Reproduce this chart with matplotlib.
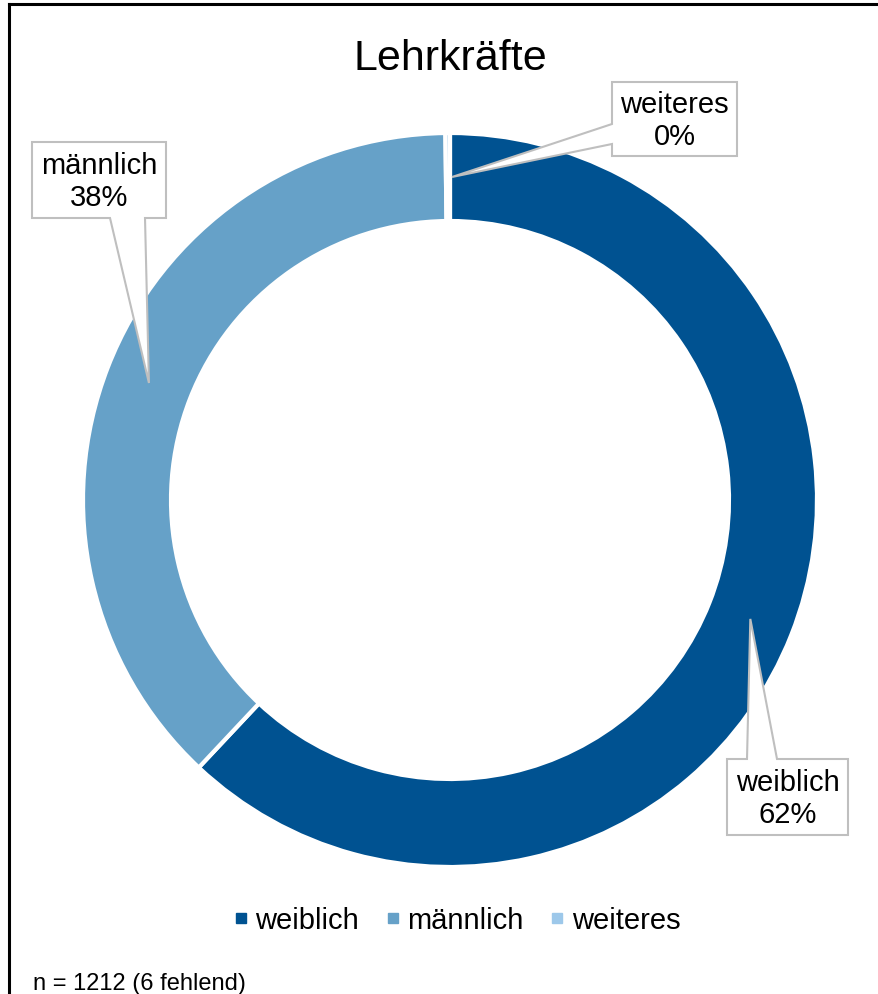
import matplotlib
matplotlib.use('Agg')
import matplotlib.pyplot as plt
import numpy as np
from matplotlib.patches import Polygon
from matplotlib.lines import Line2D

plt.rcParams['font.family'] = ['Liberation Sans', 'DejaVu Sans']

# data
kategorien = ['weiblich', 'männlich', 'weiteres']
anteile = [62.0, 37.8, 0.2]
prozent_labels = ['62%', '38%', '0%']
farben = ['#005291', '#66A1C8', '#9DC8EA']
titel = 'Lehrkräfte'
fussnote = 'n = 1212 (6 fehlend)'

W, H = 879, 995
fig = plt.figure(figsize=(W / 100, H / 100), dpi=100)
ax = fig.add_axes([0, 0, 1, 1])

def py(y):
    # pixel row (from top) -> axis y
    return H - y

cx, cy = 450, py(501)
r_out, breite = 367, 88
ax.pie(anteile, colors=farben, startangle=90, counterclock=False,
       center=(cx, cy), radius=r_out,
       wedgeprops=dict(width=breite, edgecolor='white', linewidth=3))
ax.set_xlim(0, W)
ax.set_ylim(0, H)
ax.set_aspect('equal')
ax.axis('off')

# callout tips: middle of each ring segment
r_mid = r_out - breite / 2
grenzen = np.cumsum([0] + anteile)
mitte = (grenzen[:-1] + grenzen[1:]) / 2 / 100 * 360
spitzen = [(cx + r_mid * np.sin(np.radians(a)), cy + r_mid * np.cos(np.radians(a)))
           for a in mitte]
spitzen[2] = (cx + 2, cy + r_mid)

# boxes: (left, top, right, bottom) in pixels, side of pointer, base span
boxen = [
    ((727, 760, 848, 836), 'top', (747, 777)),
    ((32, 143, 166, 219), 'bottom', (110, 145)),
    ((612, 83, 737, 157), 'left', (125, 145)),
]
for (box, seite, basis), tip, name, pz in zip(boxen, spitzen, kategorien, prozent_labels):
    l, t, r, b = box
    if seite == 'top':
        pts = [(l, t), (basis[0], t), tip, (basis[1], t), (r, t), (r, b), (l, b)]
    elif seite == 'bottom':
        pts = [(l, t), (r, t), (r, b), (basis[1], b), tip, (basis[0], b), (l, b)]
    else:
        pts = [(l, t), (r, t), (r, b), (l, b), (l, basis[1]), tip, (l, basis[0])]
    pts = [(x, py(y)) if (x, y) != tip else tip for x, y in pts]
    ax.add_patch(Polygon(pts, closed=True, facecolor='white', edgecolor='#BFBFBF',
                         linewidth=1.5, zorder=5))
    ax.text((l + r) / 2, py((t + b) / 2 + 1), name + '\n' + pz, ha='center', va='center',
            fontsize=21, linespacing=1.15, zorder=6)

ax.text(450, py(70), titel, ha='center', va='baseline', fontsize=31)
ax.text(33, py(990), fussnote, ha='left', va='baseline', fontsize=17)

handles = [Line2D([], [], marker='s', linestyle='none', markersize=6.5,
                  markerfacecolor=f, markeredgecolor=f) for f in farben]
fig.legend(handles, kategorien, loc='center', bbox_to_anchor=(457 / W, 1 - 921 / H),
           ncol=3, frameon=False, fontsize=21, handlelength=0.5, handletextpad=0.25,
           columnspacing=0.9, borderaxespad=0, borderpad=0)

# frame lines (left and top)
ax.plot([9, 9], [py(5), 0], color='black', linewidth=2.2, solid_capstyle='projecting')
ax.plot([9, W], [py(5), py(5)], color='black', linewidth=2.2, solid_capstyle='projecting')

fig.savefig('out.png', dpi=100)
